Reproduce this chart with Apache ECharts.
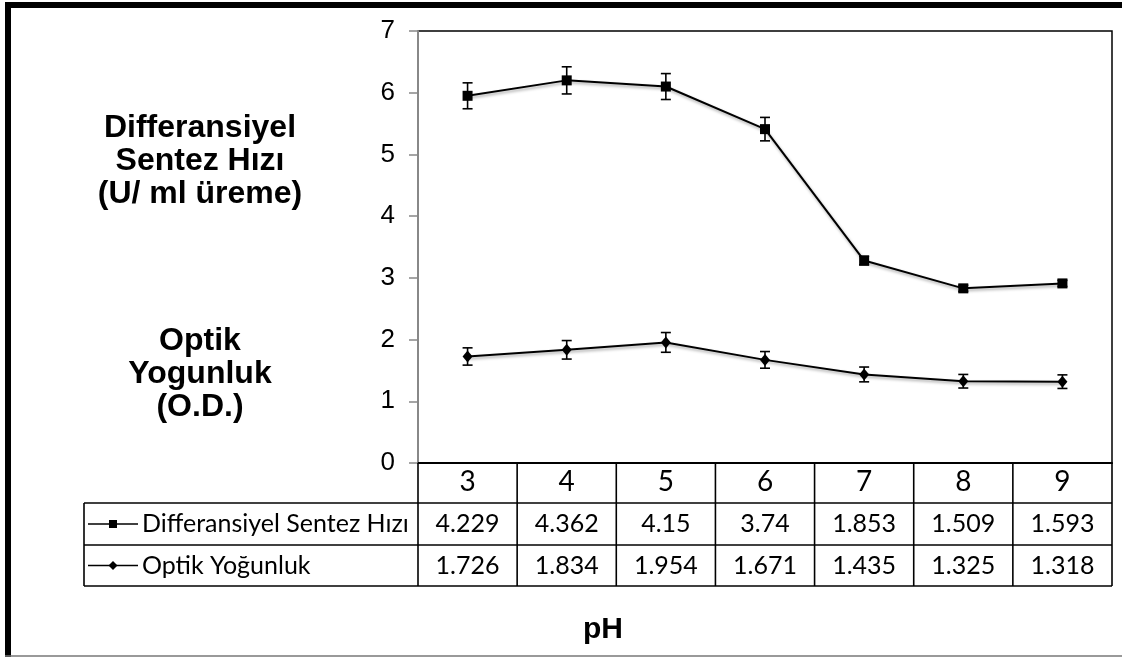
<!DOCTYPE html>
<html>
<head>
<meta charset="utf-8">
<script src="https://cdn.jsdelivr.net/npm/echarts@6/dist/echarts.min.js"></script>
<style>
html,body{margin:0;padding:0;background:#fff;}
#chart{width:1122px;height:657px;}
</style>
</head>
<body>
<div id="chart"></div>
<script>
// ---- data ----
const phLabels = ['3', '4', '5', '6', '7', '8', '9'];
const seriesNames = ['Differansiyel Sentez Hızı', 'Optik Yoğunluk'];
const dshValues = [5.95, 6.20, 6.10, 5.41, 3.28, 2.83, 2.91];
const dshErrors = [0.21, 0.22, 0.21, 0.19, 0.07, 0.05, 0.05];
const odValues = [1.726, 1.834, 1.954, 1.671, 1.435, 1.325, 1.318];
const odErrors = [0.14, 0.15, 0.16, 0.135, 0.12, 0.11, 0.11];
const dshTableLabels = ['4.229', '4.362', '4.15', '3.74', '1.853', '1.509', '1.593'];
const odTableLabels = ['1.726', '1.834', '1.954', '1.671', '1.435', '1.325', '1.318'];
const yMin = 0, yMax = 7, yInterval = 1;

// ---- layout ----
const W = 1122, H = 657;
const gridLeft = 418, gridRight = 10, gridTop = 31, gridBottom = 194;
const headerH = 40, row1H = 42, row2H = 41;
const tableLeft = 84;
const tableFont = 'Lato, "Noto Sans", sans-serif';
const arialFont = '"Liberation Sans", Arial, sans-serif';

const chart = echarts.init(document.getElementById('chart'), null, {renderer: 'canvas'});

function errRender(params, api) {
  const x = api.value(0);
  const lo = api.coord([x, api.value(1)]);
  const hi = api.coord([x, api.value(2)]);
  const w = 5;
  const st = {stroke: '#000', lineWidth: 1.6};
  return {
    type: 'group',
    children: [
      {type: 'line', shape: {x1: lo[0], y1: lo[1], x2: hi[0], y2: hi[1]}, style: st},
      {type: 'line', shape: {x1: lo[0] - w, y1: lo[1], x2: lo[0] + w, y2: lo[1]}, style: st},
      {type: 'line', shape: {x1: hi[0] - w, y1: hi[1], x2: hi[0] + w, y2: hi[1]}, style: st}
    ]
  };
}

const shadow = {shadowBlur: 3, shadowColor: 'rgba(0,0,0,0.35)', shadowOffsetX: 1, shadowOffsetY: 2};

chart.setOption({
  animation: false,
  backgroundColor: '#fff',
  grid: {left: gridLeft, right: gridRight, top: gridTop, bottom: gridBottom, show: true, borderColor: '#000', borderWidth: 1.5},
  xAxis: {
    type: 'category', data: phLabels, boundaryGap: true,
    axisLine: {show: true, lineStyle: {color: '#000', width: 2}},
    axisTick: {show: false},
    axisLabel: {color: '#000', fontSize: 28, fontFamily: tableFont, margin: 5}
  },
  yAxis: {
    type: 'value', min: yMin, max: yMax, interval: yInterval,
    axisLine: {show: true, lineStyle: {color: '#888', width: 2}},
    axisTick: {show: true, length: 9, lineStyle: {color: '#888', width: 1.5}},
    splitLine: {show: false},
    axisLabel: {color: '#000', fontSize: 26, fontFamily: arialFont, margin: 23}
  },
  series: [
    {
      name: seriesNames[0], type: 'line', data: dshValues, symbol: 'rect', symbolSize: 10,
      itemStyle: {color: '#000'}, lineStyle: Object.assign({color: '#000', width: 2}, shadow), z: 5
    },
    {
      name: seriesNames[1], type: 'line', data: odValues, symbol: 'diamond', symbolSize: [10, 12],
      itemStyle: {color: '#000'}, lineStyle: Object.assign({color: '#000', width: 2}, shadow), z: 5
    },
    {
      type: 'custom', renderItem: errRender, encode: {x: 0, y: [1, 2]}, z: 6,
      data: dshValues.map((v, i) => [i, v - dshErrors[i], v + dshErrors[i]])
    },
    {
      type: 'custom', renderItem: errRender, encode: {x: 0, y: [1, 2]}, z: 6,
      data: odValues.map((v, i) => [i, v - odErrors[i], v + odErrors[i]])
    }
  ]
});

// ---- table and texts built from axis positions ----
const centers = phLabels.map((_, i) => chart.convertToPixel({xAxisIndex: 0}, i));
const step = centers.length > 1 ? centers[1] - centers[0] : 100;
const bounds = centers.map(c => c - step / 2).concat([centers[centers.length - 1] + step / 2]);
const axisY = chart.convertToPixel({yAxisIndex: 0}, yMin);
const r1Top = axisY + headerH, r2Top = r1Top + row1H, tBottom = r2Top + row2H;
const lineSt = {stroke: '#000', lineWidth: 1.6};
const g = [];
bounds.forEach(x => g.push({type: 'line', shape: {x1: x, y1: axisY, x2: x, y2: tBottom}, style: lineSt, z: 10}));
[r1Top, r2Top, tBottom].forEach(y => g.push({type: 'line', shape: {x1: tableLeft, y1: y, x2: bounds[bounds.length - 1], y2: y}, style: lineSt, z: 10}));
g.push({type: 'line', shape: {x1: tableLeft, y1: r1Top, x2: tableLeft, y2: tBottom}, style: lineSt, z: 10});

const rowsVals = [dshTableLabels, odTableLabels];
const rowMid = [r1Top + row1H / 2, r2Top + row2H / 2];
rowsVals.forEach((vals, r) => {
  vals.forEach((t, i) => g.push({type: 'text', x: centers[i], y: rowMid[r], z: 11,
    style: {text: t, fill: '#000', font: '25px ' + tableFont, textAlign: 'center', textVerticalAlign: 'middle'}}));
  // legend key
  g.push({type: 'line', shape: {x1: tableLeft + 4, y1: rowMid[r], x2: tableLeft + 54, y2: rowMid[r]}, style: {stroke: '#000', lineWidth: 1.5}, z: 11});
  if (r === 0) {
    g.push({type: 'rect', shape: {x: tableLeft + 25, y: rowMid[r] - 4, width: 8, height: 8}, style: {fill: '#000'}, z: 12});
  } else {
    g.push({type: 'polygon', shape: {points: [[tableLeft + 29, rowMid[r] - 4.5], [tableLeft + 33.5, rowMid[r]], [tableLeft + 29, rowMid[r] + 4.5], [tableLeft + 24.5, rowMid[r]]]}, style: {fill: '#000'}, z: 12});
  }
  g.push({type: 'text', x: tableLeft + 58, y: rowMid[r], z: 11,
    style: {text: seriesNames[r], fill: '#000', font: '25px ' + tableFont, textAlign: 'left', textVerticalAlign: 'middle'}});
});

// titles
g.push({type: 'text', x: 200, y: 161, z: 11, style: {text: 'Differansiyel\nSentez Hızı\n(U/ ml üreme)', fill: '#000', font: 'bold 32px ' + arialFont, textAlign: 'center', textVerticalAlign: 'middle', lineHeight: 33}});
g.push({type: 'text', x: 200, y: 374, z: 11, style: {text: 'Optik\nYogunluk\n(O.D.)', fill: '#000', font: 'bold 32px ' + arialFont, textAlign: 'center', textVerticalAlign: 'middle', lineHeight: 33}});
g.push({type: 'text', x: 603, y: 630, z: 11, style: {text: 'pH', fill: '#000', font: 'bold 30px ' + arialFont, textAlign: 'center', textVerticalAlign: 'middle'}});

// outer frame
g.push({type: 'rect', shape: {x: 5, y: 2, width: 6, height: H - 2}, style: {fill: '#000'}, z: 20});
g.push({type: 'rect', shape: {x: 5, y: 2, width: W - 5, height: 6}, style: {fill: '#000'}, z: 20});
g.push({type: 'line', shape: {x1: 5, y1: H - 1, x2: W, y2: H - 1}, style: {stroke: '#777', lineWidth: 1.5}, z: 20});

chart.setOption({graphic: g});
</script>
</body>
</html>
